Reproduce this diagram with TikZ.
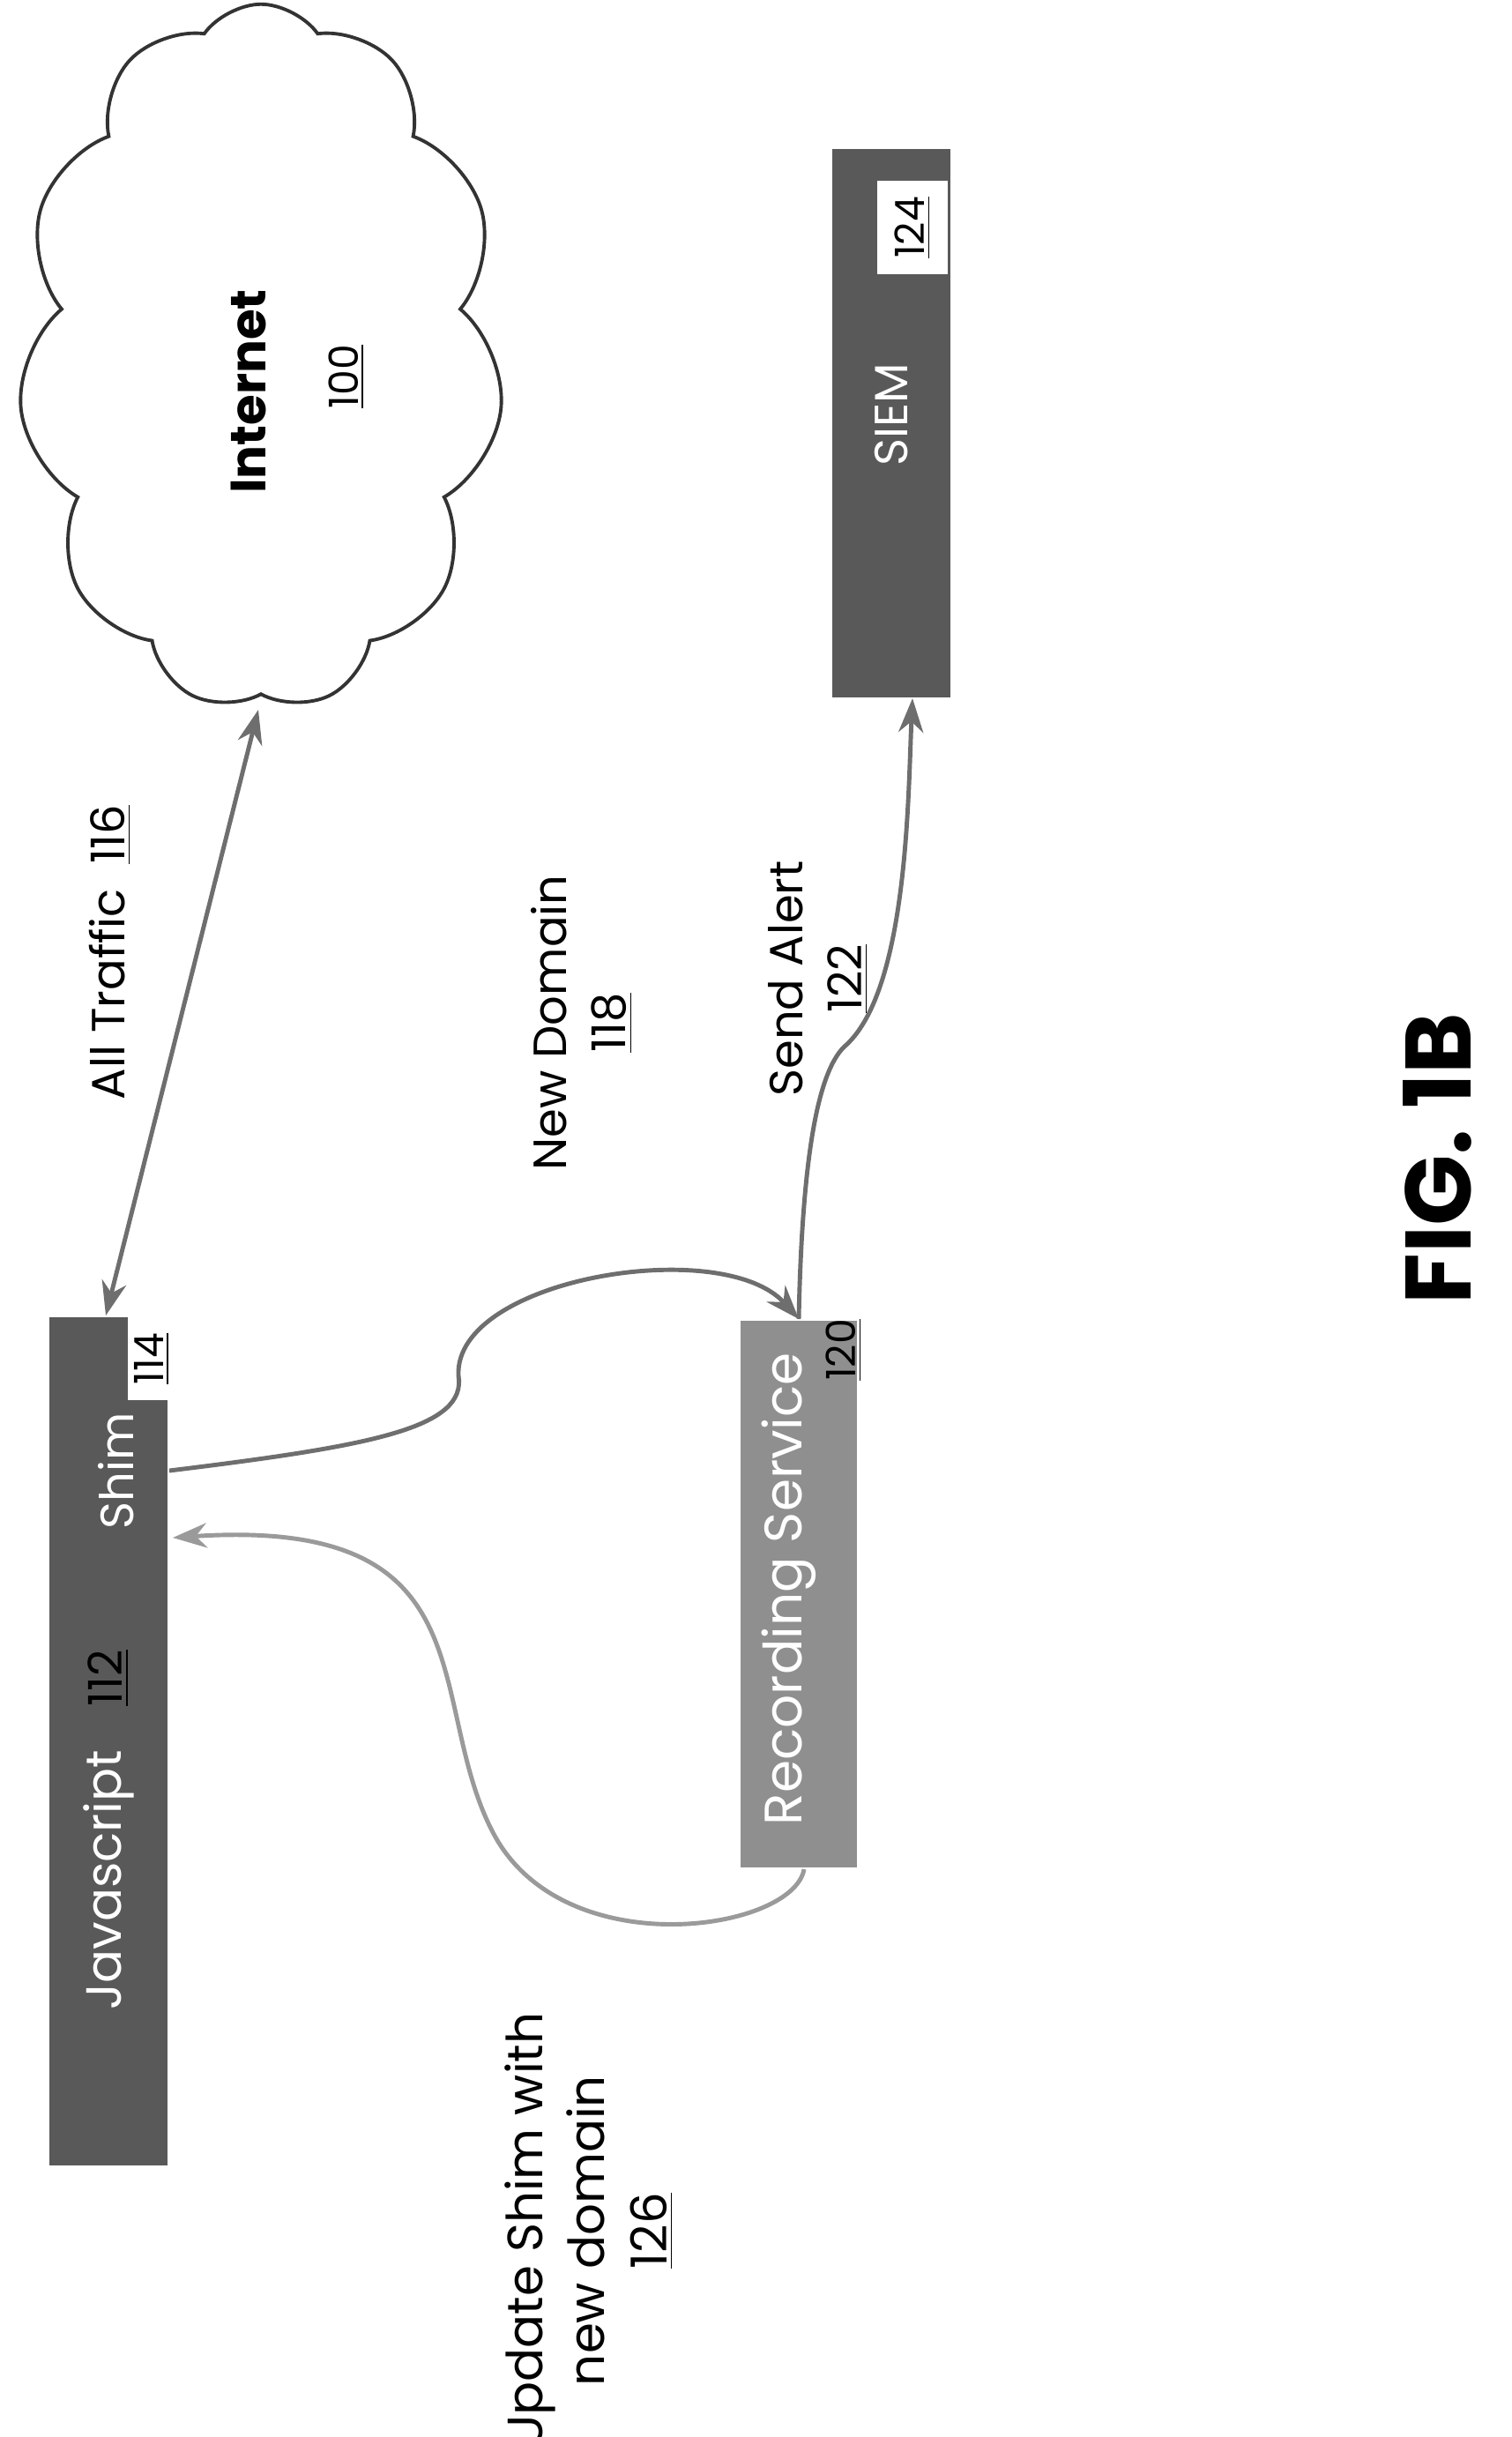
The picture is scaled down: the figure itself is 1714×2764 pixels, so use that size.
\documentclass[tikz,border=0pt]{standalone}
\usepackage{fontspec}
\setmainfont{Poppins}
\usetikzlibrary{shapes.symbols,arrows.meta}
\definecolor{bardark}{HTML}{595959}
\definecolor{barlight}{HTML}{8F8F8F}
\definecolor{wiregray}{HTML}{6E6E6E}
\definecolor{wirelight}{HTML}{9A9A9A}
\begin{document}
\begin{tikzpicture}[x=0.01cm,y=0.01cm,
  bar/.style={fill=#1,draw=none,inner sep=0pt},
  tag/.style={fill=white,inner sep=2pt,font=\fontsize{13}{13}\selectfont,rotate=90},
  lbl/.style={rotate=90,font=\fontsize{15}{19}\selectfont,align=center,inner sep=0pt},
  wire/.style={draw=wiregray,line width=1.4pt,-{Stealth[length=11pt,width=8pt]}}]
\useasboundingbox (0,0) rectangle (1714,-2764);
% cloud
\node (net) [cloud,draw=black!80,line width=1.1pt,cloud puffs=11,cloud puff arc=110,aspect=0.68,
  minimum width=5.5cm,minimum height=8.0cm,inner sep=0pt] at (296,-405) {};
\node (nettxt) [rotate=90,font=\fontsize{16}{16}\selectfont\bfseries] at (282,-444) {Internet};
\node (netnum) [rotate=90,font=\fontsize{13}{13}\selectfont] at (393,-427) {\underline{100}};
% boxes
\node (js) [bar=bardark,minimum width=1.34cm,minimum height=9.62cm] at (123,-1975) {};
\node (shimnum) [tag,minimum width=0.94cm,minimum height=0.35cm] at (172,-1541) {\underline{114}};
\node (shim) [rotate=90,text=white,font=\fontsize{15}{15}\selectfont] at (132,-1668) {Shim};
\node (jstxt) [rotate=90,text=white,font=\fontsize{16}{16}\selectfont] at (123,-2132) {Javascript};
\node (jsnum) [rotate=90,font=\fontsize{15}{15}\selectfont] at (123,-1903) {\underline{112}};
\node (rec) [bar=barlight,minimum width=1.32cm,minimum height=6.2cm] at (906,-1808) {};
\node (rectxt) [rotate=90,text=white,font=\fontsize{17}{17}\selectfont] at (895,-1802) {Recording Service};
\node (recnum) [rotate=90,font=\fontsize{13}{13}\selectfont] at (957,-1531) {\underline{120}};
\node (siem) [bar=bardark,minimum width=1.34cm,minimum height=6.21cm] at (1011,-480) {};
\node (siemnum) [tag,minimum width=1.05cm,minimum height=0.8cm] at (1035,-258) {\underline{124}};
\node (siemtxt) [rotate=90,text=white,font=\fontsize{15}{15}\selectfont] at (1011,-470) {SIEM};
% labels
\node (alltraf) [lbl] at (125,-1080) {All Traffic\ \ \underline{116}};
\node (newdom) [lbl] at (660,-1160) {New Domain\\\underline{118}};
\node (alert) [lbl] at (928,-1110) {Send Alert\\\underline{122}};
\node (upd) [lbl,font=\fontsize{16}{20}\selectfont] at (668,-2530) {Update Shim with\\new domain\\\underline{126}};
\node (fig) [rotate=90,font=\fontsize{30}{30}\selectfont\bfseries] at (1630,-1314) {FIG. 1B};
% connectors
\coordinate (netb) at (293,-805);
\coordinate (shimtop) at (120,-1492);
\coordinate (shimr) at (192,-1668);
\coordinate (rectop) at (906,-1496);
\coordinate (recbot) at (912,-2120);
\coordinate (shimin) at (196,-1744);
\coordinate (siemb) at (1035,-792);
\draw [wire,{Stealth[length=11pt,width=8pt]}-{Stealth[length=11pt,width=8pt]}] (netb) -- (shimtop);
\draw [wire] (shimr) .. controls (420,-1640) and (530,-1620) .. (520,-1560)
  .. controls (515,-1450) and (820,-1400) .. (rectop);
\draw [wire,draw=wirelight] (recbot) .. controls (900,-2190) and (640,-2230) .. (560,-2080)
  .. controls (480,-1930) and (560,-1720) .. (shimin);
\draw [wire] (rectop) .. controls (910,-1300) and (930,-1210) .. (960,-1185)
  .. controls (1030,-1120) and (1030,-900) .. (siemb);
\end{tikzpicture}
\end{document}
